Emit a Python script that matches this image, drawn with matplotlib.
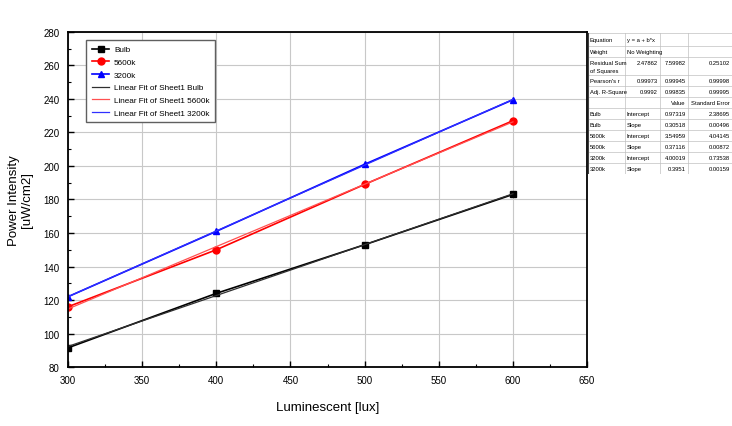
import matplotlib.pyplot as plt
import numpy as np

plt.rcParams['font.family'] = ['Liberation Sans', 'DejaVu Sans']

# data
lux = np.array([300, 400, 500, 600])
bulb = np.array([91.5, 124, 153, 183])
k5600 = np.array([116, 150, 189, 227])
k3200 = np.array([122, 161, 201, 239.5])

# fit result table (as shown in the picture)
stat_names = ['Residual Sum\nof Squares', "Pearson's r", 'Adj. R-Square']
stat_vals = [['2.47862', '7.59982', '0.25102'],
             ['0.99973', '0.99945', '0.99998'],
             ['0.9992', '0.99835', '0.99995']]
par_rows = [['Bulb', 'Intercept', '0.97319', '2.38695'],
            ['Bulb', 'Slope', '0.30518', '0.00496'],
            ['5600k', 'Intercept', '3.54959', '4.04145'],
            ['5600k', 'Slope', '0.37116', '0.00872'],
            ['3200k', 'Intercept', '4.00019', '0.73538'],
            ['3200k', 'Slope', '0.3951', '0.00159']]

fig = plt.figure(figsize=(7.32, 4.27), dpi=100)
ax = fig.add_axes([0.093, 0.138, 0.709, 0.785])

ax.plot(lux, bulb, '-s', color='black', ms=5, lw=1.2, label='Bulb')
ax.plot(lux, k5600, '-o', color='red', ms=5, lw=1.2, label='5600k')
ax.plot(lux, k3200, '-^', color='blue', ms=5, lw=1.2, label='3200k')

fit_colors = ['#303030', '#ff5050', '#3030ff']
for y, c, name in zip([bulb, k5600, k3200], fit_colors, ['Bulb', '5600k', '3200k']):
    b, a = np.polyfit(lux, y, 1)
    ax.plot(lux, a + b * lux, color=c, lw=0.9, label='Linear Fit of Sheet1 ' + name)

ax.set_xlim(300, 650)
ax.set_ylim(80, 280)
ax.set_xticks(np.arange(300, 651, 50))
ax.set_yticks(np.arange(80, 281, 20))
ax.set_xticks(np.arange(325, 650, 50), minor=True)
ax.set_yticks(np.arange(90, 280, 20), minor=True)
ax.tick_params(direction='in', labelsize=7, length=4, width=1, pad=6)
ax.tick_params(which='minor', direction='in', length=2.5, width=0.8)
ax.grid(True, color='#c8c8c8', lw=0.8)
ax.set_axisbelow(True)
for s in ax.spines.values():
    s.set_linewidth(1.3)

ax.set_xlabel('Luminescent [lux]', fontsize=9.5, labelpad=11)
ax.set_ylabel('Power Intensity\n[uW/cm2]', fontsize=9.5, linespacing=1.1)
ax.yaxis.set_label_coords(-0.068, 0.5)

ax.legend(loc='upper left', bbox_to_anchor=(0.027, 0.988), fontsize=5.9,
          frameon=True, fancybox=False, edgecolor='#606060', framealpha=1,
          handlelength=2.1, handletextpad=0.6, labelspacing=0.6, borderpad=0.7)

# fit result table at the right
tx = fig.add_axes([0.803, 0.590, 0.197, 0.330])
tx.set_xlim(0, 144)
tx.set_ylim(141, 0)
tx.axis('off')
cols = [0, 37, 72, 100, 144]
rows = [0, 13, 24, 42, 53, 64, 75, 86, 97, 108, 119, 130, 141]
for r in rows:
    tx.plot([0, 144], [r, r], color='#c0c0c0', lw=0.5)
for c in cols[1:]:
    tx.plot([c, c], [0, 141], color='#c0c0c0', lw=0.5)
tx.plot([0, 0], [0, 141], color='#404040', lw=1.5)
fs = 4.2
tx.text(2, 6.5, 'Equation', fontsize=fs, va='center')
tx.text(39, 6.5, 'y = a + b*x', fontsize=fs, va='center')
tx.text(2, 18.5, 'Weight', fontsize=fs, va='center')
tx.text(39, 18.5, 'No Weighting', fontsize=fs, va='center')
for i, (nm, vals) in enumerate(zip(stat_names, stat_vals)):
    y0 = (rows[2 + i] + rows[3 + i]) / 2
    tx.text(2, y0, nm, fontsize=fs, va='center', linespacing=1.8)
    for j, v in enumerate(vals):
        tx.text(cols[j + 2] - 2, y0 if i else rows[2] + 5, v, fontsize=fs,
                va='center', ha='right')
tx.text(cols[3] - 2, 69.5, 'Value', fontsize=fs, va='center', ha='right')
tx.text(cols[4] - 2, 69.5, 'Standard Error', fontsize=fs, va='center', ha='right')
for i, row in enumerate(par_rows):
    y0 = (rows[6 + i] + rows[7 + i]) / 2
    tx.text(2, y0, row[0], fontsize=fs, va='center')
    tx.text(39, y0, row[1], fontsize=fs, va='center')
    tx.text(cols[3] - 2, y0, row[2], fontsize=fs, va='center', ha='right')
    tx.text(cols[4] - 2, y0, row[3], fontsize=fs, va='center', ha='right')

fig.savefig('out.png', dpi=100)
